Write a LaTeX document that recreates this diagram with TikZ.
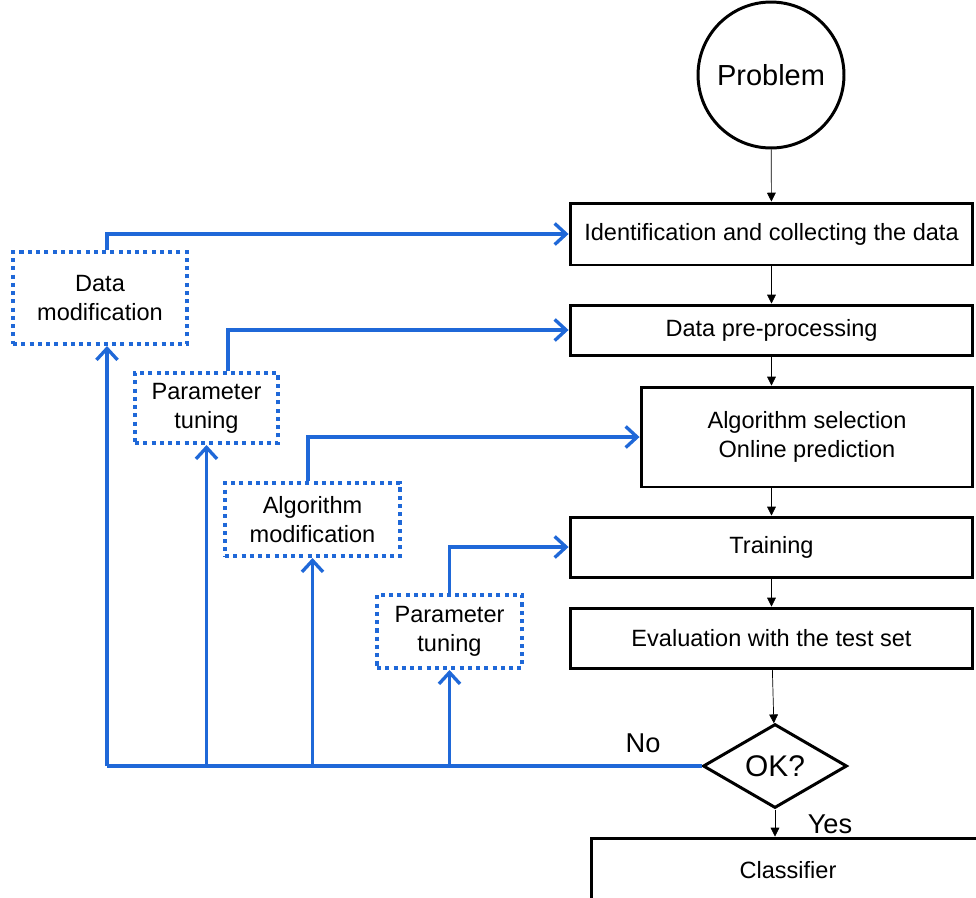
\documentclass[tikz,border=0pt]{standalone}
\usepackage{fontspec}
\setmainfont{Liberation Sans}
\usetikzlibrary{shapes.geometric, arrows.meta}

\definecolor{loopblue}{RGB}{31, 104, 216}

\begin{document}
\begin{tikzpicture}[
  x=0.02cm, y=-0.02cm,
  stage/.style={draw=black, line width=1.7pt, fill=white, font=\fontsize{13.4}{16.5}\selectfont, align=center, inner sep=2pt},
  modbox/.style={draw=loopblue, line width=2.3pt, dash pattern=on 2.3pt off 2.4pt, font=\fontsize{13.4}{16.5}\selectfont, align=center},
  arrow/.style={-{Triangle[length=5pt, width=5pt]}, thin, black},
  loop/.style={-{Straight Barb[length=6.5pt, width=12pt, line width=1.9pt]}, line width=1.9pt, loopblue},
]
\useasboundingbox (0, 0) rectangle (976, 897);

% Main flow
\node[circle, draw=black, line width=1.7pt, minimum size=2.92cm, inner sep=0pt, font=\fontsize{16.5}{19}\selectfont] (prob) at (771, 75) {Problem};
\node[stage, minimum width=8.06cm, minimum height=1.24cm] (ident) at (771.5, 234) {Identification and collecting the data};
\node[stage, minimum width=8.06cm, minimum height=1.0cm] (prep) at (771.5, 330) {Data pre-processing};
\node[stage, minimum width=6.64cm, minimum height=2.0cm] (algsel) at (807, 437) {Algorithm selection\\Online prediction};
\node[stage, minimum width=8.06cm, minimum height=1.2cm] (train) at (771.5, 547) {Training};
\node[stage, minimum width=8.06cm, minimum height=1.2cm] (eval) at (771.5, 638) {Evaluation with the test set};
\node[diamond, draw=black, line width=1.7pt, aspect=1.7, inner sep=0pt, minimum width=2.88cm, minimum height=1.68cm, font=\fontsize{17}{20}\selectfont] (ok) at (775, 766) {OK?};
\node[stage, minimum width=7.88cm, minimum height=1.28cm] (cls) at (788, 870) {Classifier};

\node[font=\fontsize{15.5}{18}\selectfont] (lno) at (643, 743) {No};
\node[font=\fontsize{15.5}{18}\selectfont] (lyes) at (830, 824) {Yes};

\draw[arrow] (prob) -- (ident);
\draw[arrow] (ident) -- (prep);
\draw[arrow] (prep.south) -- (prep.south |- algsel.north);
\draw[arrow] (train.north |- algsel.south) -- (train.north);
\draw[arrow] (train) -- (eval);
\draw[arrow] (eval) -- (ok);
\draw[arrow] (ok.south) -- (ok.south |- cls.north);

% Feedback: modifications
\node[modbox, minimum width=3.48cm, minimum height=1.84cm] (dm) at (100, 298) {Data\\modification};
\node[modbox, minimum width=2.86cm, minimum height=1.4cm] (pt1) at (206.5, 408) {Parameter\\tuning};
\node[modbox, minimum width=3.5cm, minimum height=1.46cm] (am) at (312.5, 519.5) {Algorithm\\modification};
\node[modbox, minimum width=2.9cm, minimum height=1.46cm] (pt2) at (449.5, 631.5) {Parameter\\tuning};

\draw[loop] ([xshift=0.14cm]dm.north) |- (ident.west);
\draw[loop] ([xshift=0.43cm]pt1.north) |- (prep.west);
\draw[loop] ([xshift=-0.09cm]am.north) |- (algsel.west);
\draw[loop] (pt2.north) |- (train.west);

\coordinate (back) at (107, 766);
\draw[loopblue, line width=1.9pt] (ok.west) -- (back);
\draw[loop] (back) -- (back |- dm.south);
\draw[loop] (pt1.south |- back) -- (pt1.south);
\draw[loop] (am.south |- back) -- (am.south);
\draw[loop] (pt2.south |- back) -- (pt2.south);
\end{tikzpicture}
\end{document}
